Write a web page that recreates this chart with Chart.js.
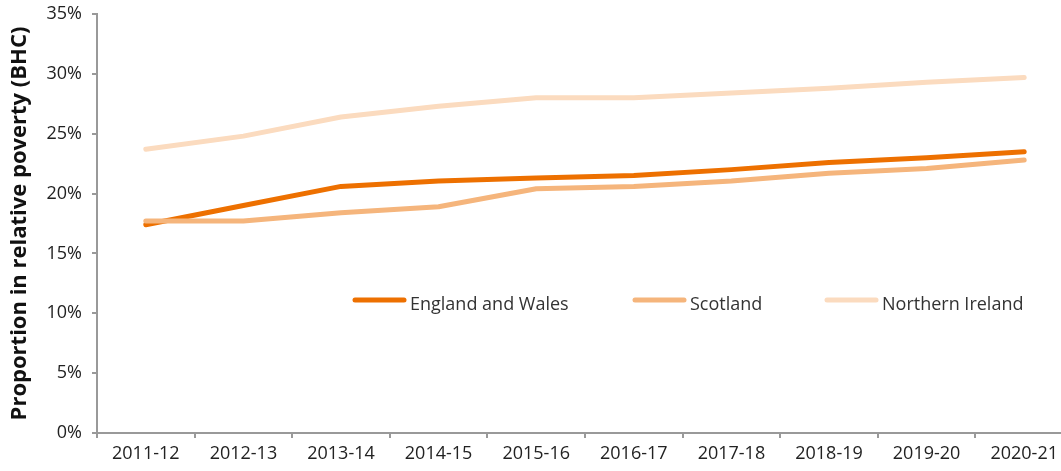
<!DOCTYPE html>
<html>
<head>
<meta charset="utf-8">
<script src="https://cdn.jsdelivr.net/npm/chart.js@4/dist/chart.umd.min.js"></script>
<style>
  html, body { margin: 0; padding: 0; background: #fff; overflow: hidden; }
  #wrap { position: relative; width: 1080px; height: 471px; }
</style>
</head>
<body>
<div id="wrap"><canvas id="c"></canvas></div>
<script>
const categories = ['2011-12','2012-13','2013-14','2014-15','2015-16','2016-17','2017-18','2018-19','2019-20','2020-21'];
const englandWales = [17.4, 19.0, 20.6, 21.05, 21.3, 21.5, 22.0, 22.6, 23.0, 23.5];
const scotland = [17.7, 17.7, 18.4, 18.9, 20.4, 20.6, 21.05, 21.7, 22.1, 22.8];
const northernIreland = [23.7, 24.8, 26.4, 27.3, 28.0, 28.0, 28.4, 28.8, 29.3, 29.7];
const seriesNames = ['England and Wales', 'Scotland', 'Northern Ireland'];
const yTicks = [0, 5, 10, 15, 20, 25, 30, 35];

const colors = ['#ED7000', '#F5B57C', '#FBDBBF'];
const FONT = "'Open Sans', 'Liberation Sans', sans-serif";

const legendPlugin = {
  id: 'inlineLegend',
  afterDatasetsDraw(chart) {
    const ctx = chart.ctx;
    const items = [
      { x: 353, idx: 0 },
      { x: 633, idx: 1 },
      { x: 825, idx: 2 }
    ];
    const y = 300;
    ctx.save();
    items.forEach(it => {
      const ds = chart.data.datasets[it.idx];
      ctx.strokeStyle = ds.borderColor;
      ctx.lineWidth = 5;
      ctx.lineCap = 'round';
      ctx.beginPath();
      ctx.moveTo(it.x + 2, y);
      ctx.lineTo(it.x + 51, y);
      ctx.stroke();
      ctx.fillStyle = '#333';
      ctx.font = "18px " + FONT;
      ctx.textBaseline = 'middle';
      ctx.textAlign = 'left';
      ctx.fillText(ds.label, it.x + 57, y + 5);
    });
    ctx.restore();
  }
};

new Chart(document.getElementById('c'), {
  type: 'line',
  data: {
    labels: categories,
    datasets: [
      { label: seriesNames[0], data: englandWales, borderColor: colors[0], order: 2 },
      { label: seriesNames[1], data: scotland, borderColor: colors[1], order: 1 },
      { label: seriesNames[2], data: northernIreland, borderColor: colors[2], order: 0 }
    ].map(d => Object.assign(d, {
      borderWidth: 5, pointRadius: 0, tension: 0, fill: false,
      borderCapStyle: 'round', borderJoinStyle: 'round'
    }))
  },
  options: {
    responsive: true,
    maintainAspectRatio: false,
    animation: false,
    layout: { padding: { top: 14, right: 7, bottom: 0, left: 7 } },
    plugins: { legend: { display: false }, tooltip: { enabled: false } },
    scales: {
      x: {
        type: 'category',
        offset: true,
        afterFit(scale) { scale.height = 38; scale.paddingLeft = 0; scale.paddingRight = 0; },
        grid: { display: true, drawOnChartArea: false, offset: true, color: '#999', tickLength: 5, lineWidth: 2 },
        border: { display: true, color: '#999', width: 2 },
        ticks: { color: '#222', font: { family: FONT, size: 18 }, padding: 5, maxRotation: 0, autoSkip: false }
      },
      y: {
        min: 0, max: 35,
        afterBuildTicks(axis) { axis.ticks = yTicks.map(v => ({ value: v })); },
        afterFit(scale) { scale.width = 90; scale.paddingTop = 0; scale.paddingBottom = 0; },
        grid: { display: true, drawOnChartArea: false, color: '#999', tickLength: 5, lineWidth: 2 },
        border: { display: true, color: '#999', width: 2 },
        ticks: { color: '#222', font: { family: FONT, size: 18 }, padding: 10, callback: v => v + '%' },
        title: {
          display: true, text: 'Proportion in relative poverty (BHC)', color: '#111',
          font: { family: "'Open Sans', 'Liberation Sans', sans-serif", size: 22, weight: 'bold' }, padding: { top: 0, bottom: 5 }
        }
      }
    }
  },
  plugins: [legendPlugin]
});
</script>
</body>
</html>
